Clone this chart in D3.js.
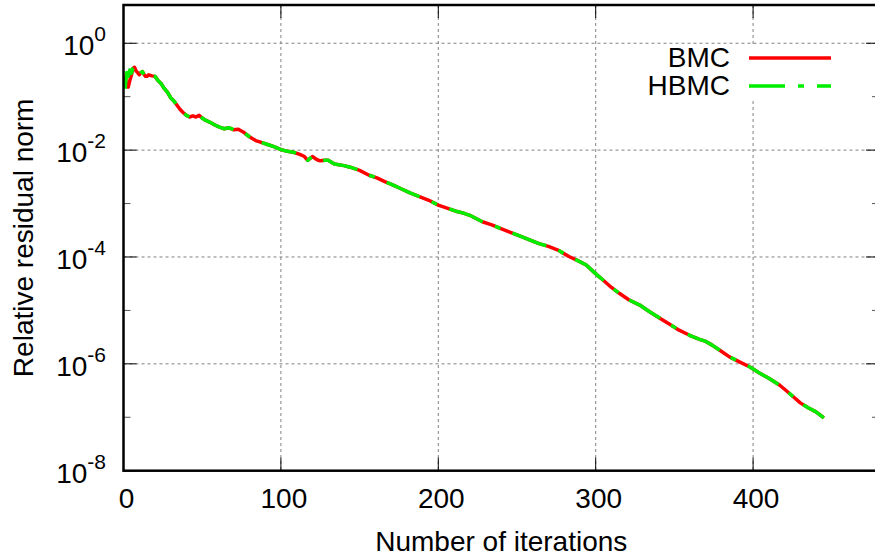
<!DOCTYPE html>
<html>
<head>
<meta charset="utf-8">
<script src="https://cdn.jsdelivr.net/npm/d3@7"></script>
<style>
  body { margin: 0; background: #fff; }
  text { font-family: "Liberation Sans", Arial, sans-serif; fill: #000; }
</style>
</head>
<body>
<div id="chart"></div>
<script>
// Convergence history: relative residual norm vs iterations

// Data
const iterations = [1, 2, 3, 4, 5, 6, 7, 8, 9, 10, 11, 12, 13, 14, 15, 16, 17, 18, 20, 22,
  24, 26, 28, 30, 32, 34, 36, 38, 40, 42, 44, 46, 48, 50, 52, 55, 58, 61, 64, 67,
  70, 73, 76, 80, 84, 88, 92, 96, 100, 104, 108, 112, 115, 117, 120, 123, 125, 128, 130, 134,
  140, 144, 150, 156, 161, 166, 171, 176, 182, 188, 194, 200, 206, 212, 216, 220, 224, 228, 234, 239,
  245, 252, 258, 264, 270, 276, 283, 288, 294, 298, 301, 305, 310, 315, 321, 328, 334, 341, 347, 353,
  360, 366, 370, 374, 380, 385, 391, 398, 404, 410, 417, 423, 430, 435, 440, 445]

const hbmcResidual = [0.141, 0.282, 0.240, 0.316, 0.275, 0.339, 0.363, 0.302, 0.282, 0.257, 0.282, 0.295, 0.263, 0.240, 0.251, 0.275, 0.263, 0.245, 0.240, 0.200,
  0.174, 0.141, 0.120, 0.0955, 0.0832, 0.0692, 0.0575, 0.0501, 0.0447, 0.0417, 0.0437, 0.0417, 0.0447, 0.0398, 0.0363, 0.0331, 0.0295, 0.0269, 0.0251, 0.0263,
  0.0240, 0.0245, 0.0219, 0.0178, 0.0151, 0.0138, 0.0126, 0.0115, 0.0102, 9.55e-3, 9.12e-3, 8.32e-3, 7.59e-3, 6.46e-3, 7.59e-3, 6.61e-3, 6.31e-3, 6.46e-3, 6.46e-3, 5.50e-3,
  5.13e-3, 4.79e-3, 4.17e-3, 3.39e-3, 3.02e-3, 2.57e-3, 2.24e-3, 1.91e-3, 1.58e-3, 1.35e-3, 1.15e-3, 9.33e-4, 8.13e-4, 7.08e-4, 6.61e-4, 6.03e-4, 5.25e-4, 4.57e-4, 3.98e-4, 3.47e-4,
  2.95e-4, 2.45e-4, 2.09e-4, 1.78e-4, 1.58e-4, 1.35e-4, 1.02e-4, 8.71e-5, 7.08e-5, 5.50e-5, 4.57e-5, 3.63e-5, 2.69e-5, 2.09e-5, 1.58e-5, 1.26e-5, 9.55e-6, 7.08e-6, 5.50e-6, 4.27e-6,
  3.39e-6, 2.88e-6, 2.63e-6, 2.24e-6, 1.70e-6, 1.35e-6, 1.10e-6, 8.71e-7, 6.76e-7, 5.37e-7, 3.98e-7, 2.82e-7, 1.86e-7, 1.51e-7, 1.26e-7, 9.77e-8]

const bmcResidual = [0.251, 0.166, 0.151, 0.200, 0.251, 0.339, 0.355, 0.302, 0.282, 0.257, 0.282, 0.295, 0.263, 0.240, 0.240, 0.257, 0.251, 0.245, 0.240, 0.200,
  0.174, 0.141, 0.120, 0.0955, 0.0832, 0.0692, 0.0575, 0.0501, 0.0447, 0.0417, 0.0437, 0.0417, 0.0447, 0.0398, 0.0363, 0.0331, 0.0295, 0.0269, 0.0251, 0.0263,
  0.0240, 0.0245, 0.0219, 0.0178, 0.0151, 0.0138, 0.0126, 0.0115, 0.0102, 9.55e-3, 9.12e-3, 8.32e-3, 7.59e-3, 6.46e-3, 7.59e-3, 6.61e-3, 6.31e-3, 6.46e-3, 6.46e-3, 5.50e-3,
  5.13e-3, 4.79e-3, 4.17e-3, 3.39e-3, 3.02e-3, 2.57e-3, 2.24e-3, 1.91e-3, 1.58e-3, 1.35e-3, 1.15e-3, 9.33e-4, 8.13e-4, 7.08e-4, 6.61e-4, 6.03e-4, 5.25e-4, 4.57e-4, 3.98e-4, 3.47e-4,
  2.95e-4, 2.45e-4, 2.09e-4, 1.78e-4, 1.58e-4, 1.35e-4, 1.02e-4, 8.71e-5, 7.08e-5, 5.50e-5, 4.57e-5, 3.63e-5, 2.69e-5, 2.09e-5, 1.58e-5, 1.26e-5, 9.55e-6, 7.08e-6, 5.50e-6, 4.27e-6,
  3.39e-6, 2.88e-6, 2.63e-6, 2.24e-6, 1.70e-6, 1.35e-6, 1.10e-6, 8.71e-7, 6.76e-7, 5.37e-7, 3.98e-7, 2.82e-7, 1.86e-7, 1.51e-7, 1.26e-7, 9.77e-8]

const seriesNames = ['BMC', 'HBMC']
const xTicks = [0, 100, 200, 300, 400]
const yMajorTicks = [1e0, 1e-2, 1e-4, 1e-6, 1e-8]
const yTickExponents = ['0', '-2', '-4', '-6', '-8']
const yMinorTicks = [1e-1, 1e-3, 1e-5, 1e-7]

// Plot box (right edge falls just outside the picture)
var width = 875
var height = 556
var plot = { left: 123.5, right: 879, top: 5, bottom: 470.7 }

const xScale = d3.scaleLinear()
  .domain([0, 480])
  .range([plot.left, plot.right])

const yScale = d3.scaleLog()
  .domain([1e-8, 5.2])
  .range([plot.bottom, plot.top])

var svg = d3.select('#chart')
  .append('svg')
  .attr('width', width)
  .attr('height', height)

// grid
const gridColor = '#808080'
svg.append('g').selectAll('line')
  .data(xTicks.slice(1))
  .enter()
  .append('line')
  .attr('x1', (d) => xScale(d)).attr('x2', (d) => xScale(d))
  .attr('y1', plot.top).attr('y2', plot.bottom)
  .attr('stroke', gridColor)
  .attr('stroke-dasharray', '3,3')

svg.append('g').selectAll('line')
  .data(yMajorTicks.slice(0, -1))
  .enter()
  .append('line')
  .attr('x1', plot.left).attr('x2', plot.right)
  .attr('y1', (d) => yScale(d)).attr('y2', (d) => yScale(d))
  .attr('stroke', gridColor)
  .attr('stroke-dasharray', '3,3')

// white box behind the key
svg.append('rect')
  .attr('x', 620).attr('y', 45)
  .attr('width', 240).attr('height', 54)
  .attr('fill', '#fff')

// curves
const bmcData = iterations.map((it, i) => [it, bmcResidual[i]])
const hbmcData = iterations.map((it, i) => [it, hbmcResidual[i]])

const line = d3.line()
  .x((d) => xScale(d[0]))
  .y((d) => yScale(d[1]))

svg.append('path')
  .datum(bmcData)
  .attr('d', line)
  .attr('fill', 'none')
  .attr('stroke', '#ff0000')
  .attr('stroke-width', 3.5)
  .attr('stroke-linejoin', 'round')

svg.append('path')
  .datum(hbmcData)
  .attr('d', line)
  .attr('fill', 'none')
  .attr('stroke', '#00ee00')
  .attr('stroke-width', 3.5)
  .attr('stroke-linejoin', 'round')
  .attr('stroke-dasharray', '36,13,6,13')

// ticks: bottom/top, left/right
const ticks = svg.append('g').attr('stroke', '#000')
xTicks.forEach((t) => {
  ticks.append('line')
    .attr('x1', xScale(t)).attr('x2', xScale(t))
    .attr('y1', plot.bottom).attr('y2', plot.bottom - 13)
  ticks.append('line')
    .attr('x1', xScale(t)).attr('x2', xScale(t))
    .attr('y1', plot.top).attr('y2', plot.top + 13)
})
yMajorTicks.forEach((t) => {
  ticks.append('line')
    .attr('x1', plot.left).attr('x2', plot.left + 13)
    .attr('y1', yScale(t)).attr('y2', yScale(t))
  ticks.append('line')
    .attr('x1', plot.right).attr('x2', plot.right - 13)
    .attr('y1', yScale(t)).attr('y2', yScale(t))
})
yMinorTicks.forEach((t) => {
  ticks.append('line')
    .attr('x1', plot.left).attr('x2', plot.left + 7)
    .attr('y1', yScale(t)).attr('y2', yScale(t))
    .attr('stroke', '#555')
  ticks.append('line')
    .attr('x1', plot.right).attr('x2', plot.right - 7)
    .attr('y1', yScale(t)).attr('y2', yScale(t))
    .attr('stroke', '#555')
})

// border
svg.append('rect')
  .attr('x', plot.left).attr('y', plot.top)
  .attr('width', plot.right - plot.left)
  .attr('height', plot.bottom - plot.top)
  .attr('fill', 'none')
  .attr('stroke', '#000')
  .attr('stroke-width', 2.5)

// tick labels
svg.append('g').selectAll('text')
  .data(xTicks)
  .enter()
  .append('text')
  .attr('x', (d) => xScale(d) + 3)
  .attr('y', 508)
  .attr('text-anchor', 'middle')
  .attr('font-size', 28)
  .text((d) => d)

const yLabels = svg.append('g').selectAll('text')
  .data(yMajorTicks)
  .enter()
  .append('text')
  .attr('x', 106)
  .attr('y', (d) => yScale(d) + 12)
  .attr('text-anchor', 'end')
  .attr('font-size', 28)

yLabels.append('tspan').text('10')
yLabels.append('tspan')
  .attr('dy', -14)
  .attr('font-size', 21)
  .text((d, i) => yTickExponents[i])

// axis titles
svg.append('text')
  .attr('x', (plot.left + plot.right) / 2)
  .attr('y', 551)
  .attr('text-anchor', 'middle')
  .attr('font-size', 28)
  .text('Number of iterations')

svg.append('text')
  .attr('transform', `translate(33, ${(plot.top + plot.bottom) / 2}) rotate(-90)`)
  .attr('text-anchor', 'middle')
  .attr('font-size', 28)
  .text('Relative residual norm')

// key
const keyRows = [
  { name: seriesNames[0], color: '#ff0000', dash: null, y: 58 },
  { name: seriesNames[1], color: '#00ee00', dash: '36,13,6,13', y: 86 }
]
keyRows.forEach((k) => {
  svg.append('text')
    .attr('x', 730)
    .attr('y', k.y + 9)
    .attr('text-anchor', 'end')
    .attr('font-size', 28)
    .text(k.name)
  svg.append('line')
    .attr('x1', 749).attr('x2', 831)
    .attr('y1', k.y).attr('y2', k.y)
    .attr('stroke', k.color)
    .attr('stroke-width', 3.5)
    .attr('stroke-dasharray', k.dash)
})
</script>
</body>
</html>
